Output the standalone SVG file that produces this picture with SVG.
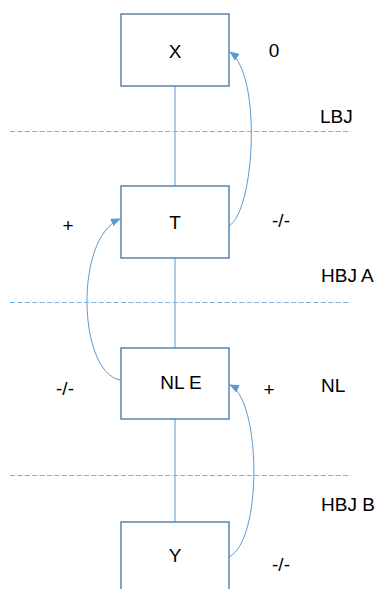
<svg xmlns="http://www.w3.org/2000/svg" width="376" height="589" viewBox="0 0 376 589">
<style>
.box{fill:#fff;stroke:#41719C;stroke-width:1.3}
.t{font-family:"Liberation Sans",Arial,sans-serif;font-size:19px;fill:#000}
.m{text-anchor:middle}
.ln{stroke:#5B9BD5;stroke-width:1;fill:none}
.cv{stroke:#5B9BD5;stroke-width:1;fill:none;marker-end:url(#ah)}
.dash{stroke:#7FB0DE;stroke-width:1.2;stroke-dasharray:5 2.4;fill:none}
</style>
<defs>
<marker id="ah" markerWidth="10" markerHeight="8" refX="9" refY="4" orient="auto" markerUnits="userSpaceOnUse">
<path d="M0,0 L10,4 L0,8 Z" fill="#5B9BD5"/>
</marker>
</defs>
<rect width="376" height="589" fill="#fff"/>
<g id="connectors">
<line class="ln" x1="175" y1="86" x2="175" y2="186"/>
<line class="ln" x1="175" y1="258" x2="175" y2="348"/>
<line class="ln" x1="175" y1="419" x2="175" y2="522"/>
<line class="dash" x1="10" y1="131.5" x2="351" y2="131.5"/>
<line class="dash" x1="10" y1="302.5" x2="351" y2="302.5"/>
<line class="dash" x1="10" y1="475.5" x2="351" y2="475.5"/>
<path class="cv" d="M229,226 C255,210 262,75 230,52"/>
<path class="cv" d="M120,380 C78,372 74,238 120,219"/>
<path class="cv" d="M229,557 C263,540 261,400 230,385"/>
</g>
<g id="node-X"><rect class="box" x="121" y="14" width="108" height="72"/><text class="t m" x="175" y="58">X</text></g>
<g id="node-T"><rect class="box" x="121" y="186" width="108" height="72"/><text class="t m" x="175" y="229">T</text></g>
<g id="node-NLE"><rect class="box" x="121" y="348" width="108" height="71"/><text class="t m" x="181" y="389">NL E</text></g>
<g id="node-Y"><rect class="box" x="121" y="522" width="108" height="80"/><text class="t m" x="175" y="562">Y</text></g>
<g id="labels">
<text class="t m" x="274" y="57">0</text>
<text class="t" x="320" y="123">LBJ</text>
<text class="t m" x="281" y="227">-/-</text>
<text class="t m" x="68" y="232">+</text>
<text class="t" x="321" y="282">HBJ A</text>
<text class="t m" x="65" y="395">-/-</text>
<text class="t m" x="269" y="396">+</text>
<text class="t" x="321" y="392">NL</text>
<text class="t" x="321" y="511">HBJ B</text>
<text class="t m" x="281" y="571">-/-</text>
</g>
</svg>
